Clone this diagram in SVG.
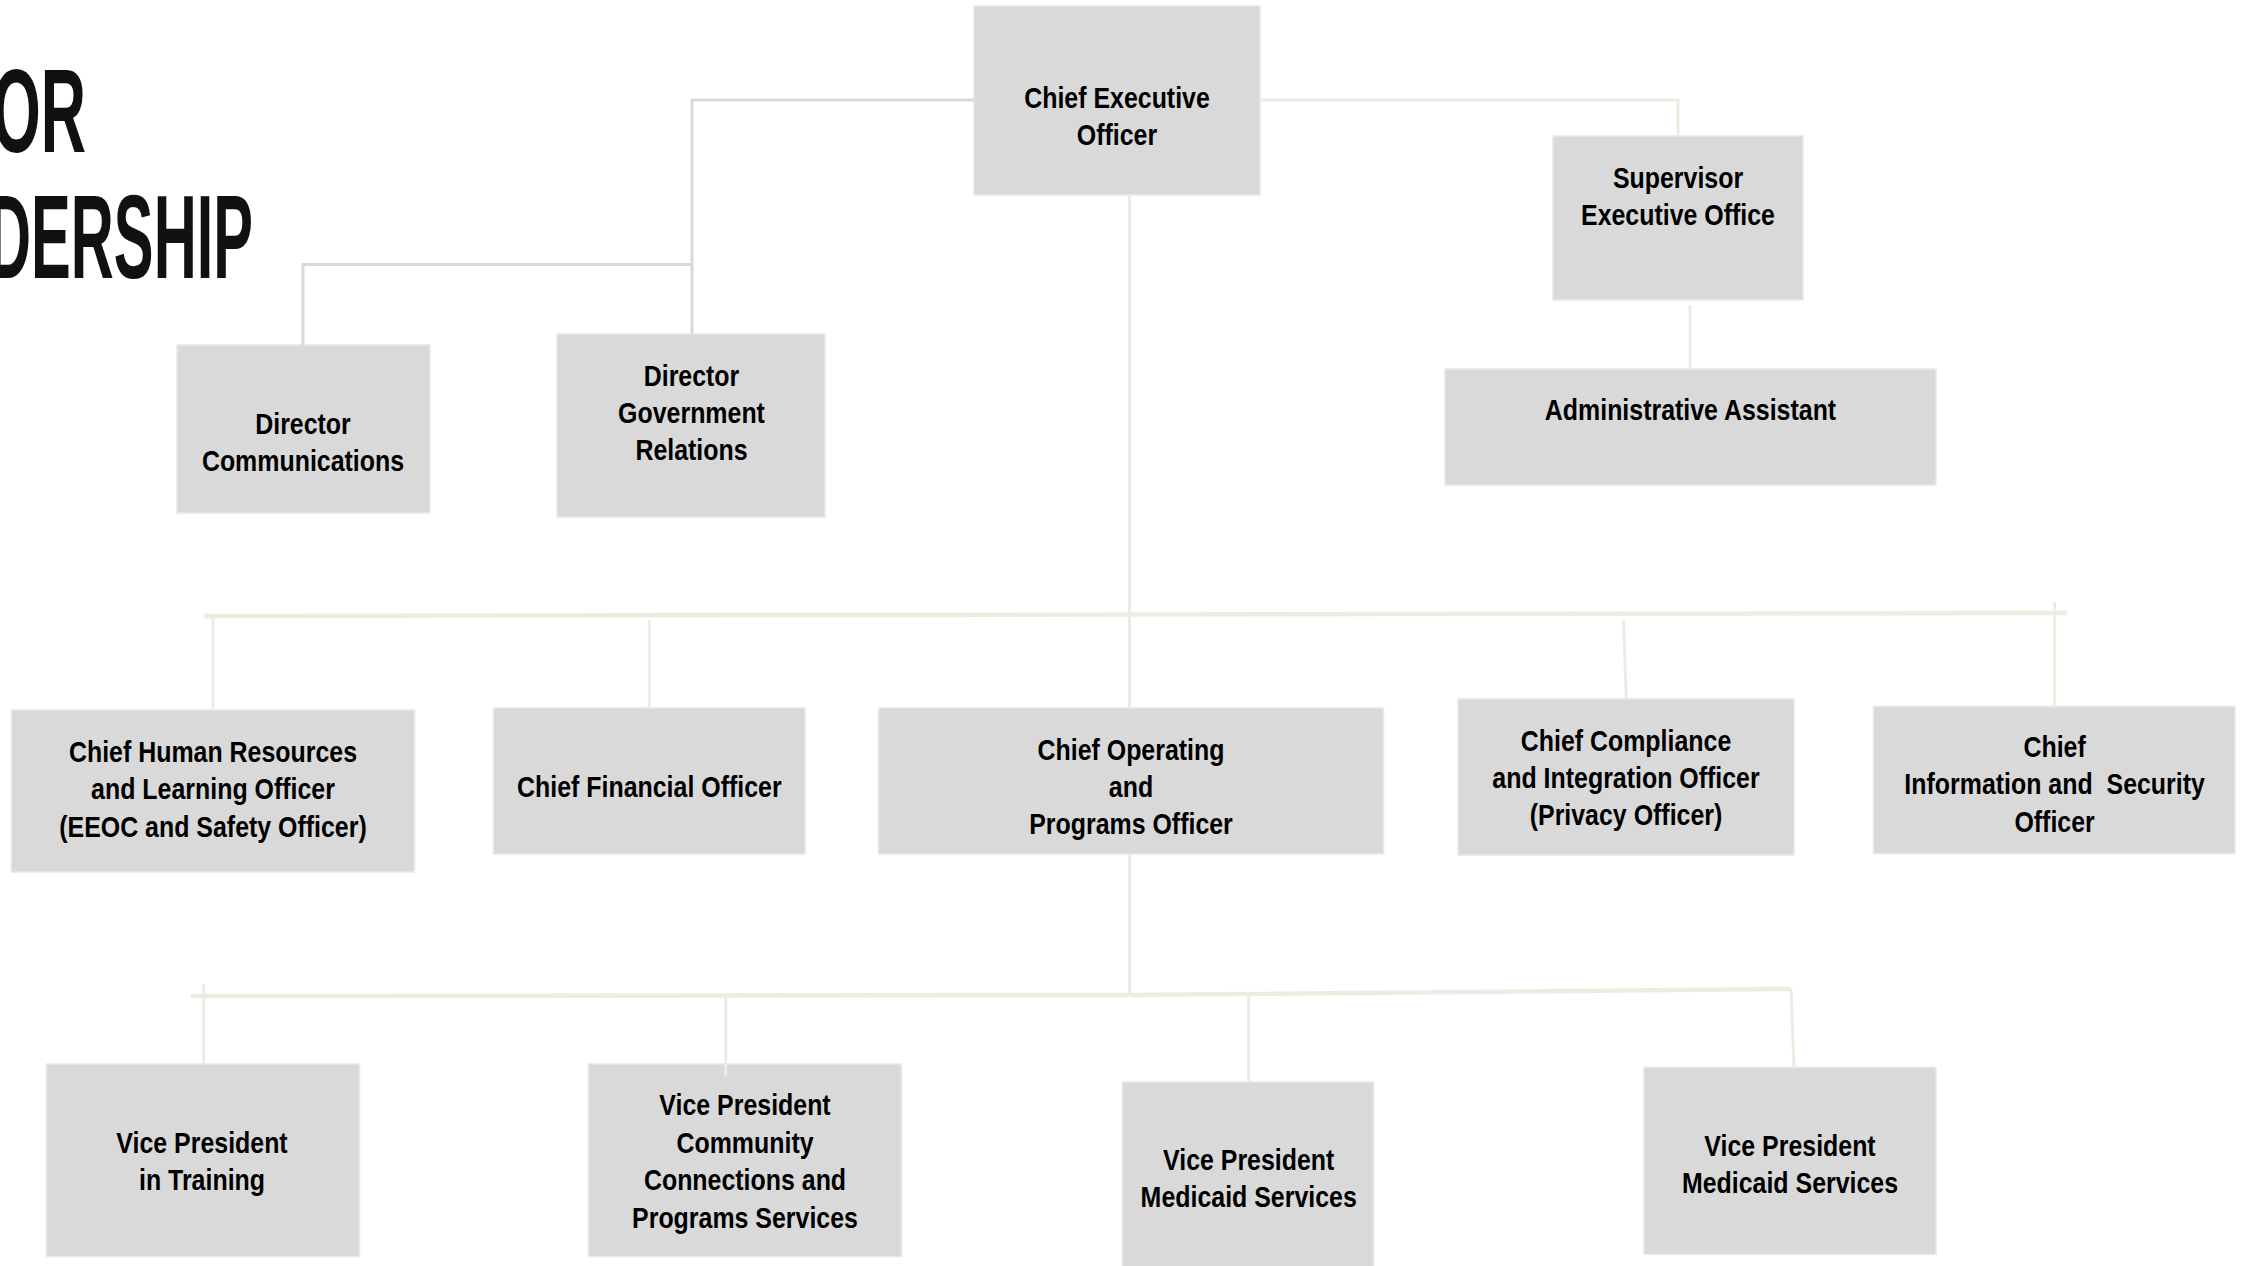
<svg xmlns="http://www.w3.org/2000/svg" width="2243" height="1266" viewBox="0 0 2243 1266">
<style>
.box{fill:#d9d9d9;stroke:#e8e8e8;stroke-width:1.5}
.lbl{font-family:"Liberation Sans",Arial,sans-serif;font-weight:bold;font-size:29px;fill:#000;text-anchor:middle}
.title{font-family:"Liberation Sans",Arial,sans-serif;font-weight:bold;font-size:118px;fill:#111}
.cg{fill:none;stroke:#d9d9d9;stroke-width:3}
.cc{fill:none;stroke:#eeece1;stroke-width:3}
.cb{fill:none;stroke:#eeece1;stroke-width:4.5}
</style>
<rect width="2243" height="1266" fill="#ffffff"/>
<g id="title">
<text class="title" x="-8" y="151.5" textLength="94" lengthAdjust="spacingAndGlyphs">OR</text>
<text class="title" x="-12" y="278" textLength="265" lengthAdjust="spacingAndGlyphs">DERSHIP</text>
</g>
<g id="nodes">
<g id="ceo"><rect class="box" x="974" y="6" width="286" height="189"/>
<g transform="translate(1117 0) scale(0.86 1)"><text class="lbl" y="108.5">Chief Executive</text><text class="lbl" y="145.5">Officer</text></g></g>
<g id="supervisor"><rect class="box" x="1553" y="136" width="250" height="164"/>
<g transform="translate(1678 0) scale(0.86 1)"><text class="lbl" y="188">Supervisor</text><text class="lbl" y="225.5">Executive Office</text></g></g>
<g id="admin"><rect class="box" x="1445" y="369" width="491" height="116"/>
<g transform="translate(1690.5 0) scale(0.86 1)"><text class="lbl" y="420">Administrative Assistant</text></g></g>
<g id="dir-comm"><rect class="box" x="177" y="345" width="253" height="168"/>
<g transform="translate(303 0) scale(0.86 1)"><text class="lbl" y="434.5">Director</text><text class="lbl" y="471">Communications</text></g></g>
<g id="dir-gov"><rect class="box" x="557" y="334" width="268" height="183"/>
<g transform="translate(691.5 0) scale(0.86 1)"><text class="lbl" y="385.7">Director</text><text class="lbl" y="423">Government</text><text class="lbl" y="460.5">Relations</text></g></g>
<g id="chro"><rect class="box" x="11.5" y="710" width="403" height="162"/>
<g transform="translate(213 0) scale(0.86 1)"><text class="lbl" y="761.7">Chief Human Resources</text><text class="lbl" y="799.3">and Learning Officer</text><text class="lbl" y="836.7">(EEOC and Safety Officer)</text></g></g>
<g id="cfo"><rect class="box" x="493.5" y="708" width="311.5" height="146"/>
<g transform="translate(649.3 0) scale(0.86 1)"><text class="lbl" y="797.3">Chief Financial Officer</text></g></g>
<g id="coo"><rect class="box" x="878.5" y="708" width="505" height="146"/>
<g transform="translate(1131 0) scale(0.86 1)"><text class="lbl" y="760">Chief Operating</text><text class="lbl" y="797">and</text><text class="lbl" y="834">Programs Officer</text></g></g>
<g id="cco"><rect class="box" x="1458" y="699" width="336" height="156"/>
<g transform="translate(1626 0) scale(0.86 1)"><text class="lbl" y="751">Chief Compliance</text><text class="lbl" y="788.3">and Integration Officer</text><text class="lbl" y="825">(Privacy Officer)</text></g></g>
<g id="ciso"><rect class="box" x="1873.5" y="706.5" width="361.5" height="147"/>
<g transform="translate(2054.6 0) scale(0.86 1)"><text class="lbl" y="756.7">Chief</text><text class="lbl" y="794.3" xml:space="preserve">Information and  Security</text><text class="lbl" y="831.7">Officer</text></g></g>
<g id="vp-training"><rect class="box" x="46.5" y="1064" width="313" height="192.5"/>
<g transform="translate(202 0) scale(0.86 1)"><text class="lbl" y="1153.3">Vice President</text><text class="lbl" y="1190">in Training</text></g></g>
<g id="vp-community"><rect class="box" x="588.5" y="1064" width="313" height="192.5"/>
<g transform="translate(745 0) scale(0.86 1)"><text class="lbl" y="1115">Vice President</text><text class="lbl" y="1152.7">Community</text><text class="lbl" y="1190">Connections and</text><text class="lbl" y="1227.7">Programs Services</text></g></g>
<g id="vp-medicaid-1"><rect class="box" x="1122.5" y="1082" width="251" height="190"/>
<g transform="translate(1248.7 0) scale(0.86 1)"><text class="lbl" y="1170">Vice President</text><text class="lbl" y="1206.7">Medicaid Services</text></g></g>
<g id="vp-medicaid-2"><rect class="box" x="1644" y="1067.3" width="292" height="187"/>
<g transform="translate(1790 0) scale(0.86 1)"><text class="lbl" y="1156">Vice President</text><text class="lbl" y="1193.3">Medicaid Services</text></g></g>
</g>
<g id="connectors">
<polyline class="cg" points="974,100 692,100 692,334"/>
<polyline class="cg" points="692,264.5 303,264.5 303,345"/>
<polyline class="cc" points="1260,100 1678,100 1678,136"/>
<line class="cc" x1="1690" y1="305" x2="1690" y2="369"/>
<line class="cc" x1="1129.5" y1="195" x2="1129.5" y2="708"/>
<line class="cc" x1="1129.5" y1="854" x2="1129.5" y2="995"/>
<polyline class="cb" points="204,616 2067,613"/>
<line class="cc" x1="213" y1="616" x2="213" y2="710"/>
<line class="cc" x1="649.3" y1="620" x2="649.3" y2="708"/>
<line class="cc" x1="1623.5" y1="620" x2="1626.3" y2="699"/>
<line class="cc" x1="2054.6" y1="602" x2="2054.6" y2="706.5"/>
<polyline class="cb" points="191,996 1129,995 1791,989"/>
<line class="cc" x1="1791" y1="989" x2="1794" y2="1068"/>
<line class="cc" x1="203.6" y1="984" x2="203.6" y2="1064"/>
<line class="cc" x1="725.7" y1="996" x2="725.7" y2="1076"/>
<line class="cc" x1="1248.7" y1="996" x2="1248.7" y2="1082"/>
</g>
</svg>
